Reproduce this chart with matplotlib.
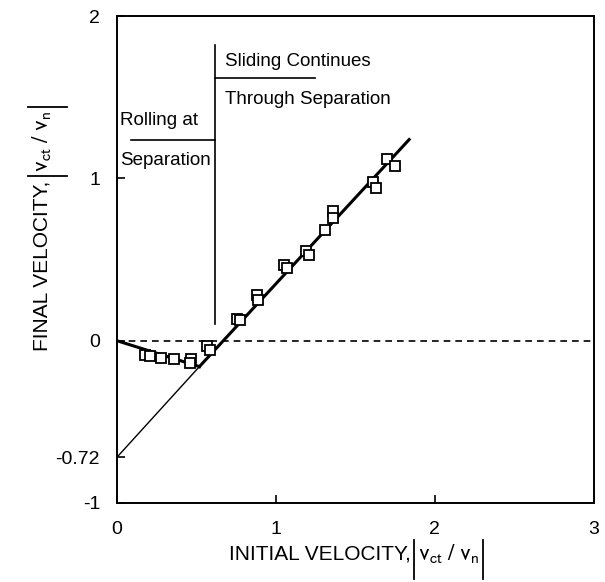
import matplotlib.pyplot as plt
import numpy as np
from matplotlib.lines import Line2D
from matplotlib.transforms import IdentityTransform

plt.rcParams["font.family"] = ["Liberation Sans", "DejaVu Sans"]
plt.rcParams["mathtext.fontset"] = "stixsans"

# measured points |vct/vn| initial vs final
x_pts = [0.18, 0.21, 0.28, 0.36, 0.47, 0.46, 0.57, 0.585, 0.755, 0.775,
         0.88, 0.89, 1.05, 1.07, 1.19, 1.21, 1.31, 1.36, 1.36,
         1.61, 1.63, 1.70, 1.75]
y_pts = [-0.09, -0.095, -0.105, -0.115, -0.11, -0.14, -0.03, -0.06, 0.135, 0.125,
         0.28, 0.25, 0.465, 0.45, 0.55, 0.53, 0.68, 0.80, 0.755,
         0.98, 0.94, 1.12, 1.08]

# model lines
roll_x = [0.0, 0.52]
roll_y = [0.0, -0.16]
slide_x = [0.52, 1.84]
slide_y = [-0.16, 1.24]
thin_x = [0.0, 0.52]
thin_y = [-0.72, -0.16]

yticks = [-1, -0.72, 0, 1, 2]
ytick_labels = ["-1", "-0.72", "0", "1", "2"]
xticks = [0, 1, 2, 3]

fig = plt.figure(figsize=(6.05, 5.82), dpi=100)
ax = fig.add_axes([0.193, 0.136, 0.788, 0.836])

ax.plot([0, 3], [0, 0], color="black", lw=1.2, ls=(0, (4, 3)))
ax.plot(thin_x, thin_y, color="black", lw=1.0)
ax.plot(roll_x, roll_y, color="black", lw=2.2)
ax.plot(slide_x, slide_y, color="black", lw=2.2)
ax.plot(x_pts, y_pts, ls="none", marker="s", ms=7, mfc="white", mec="black", mew=1.3)

# region dividers
ax.plot([0.62, 0.62], [0.1, 1.82], color="black", lw=1.2)
ax.plot([0.62, 1.25], [1.62, 1.62], color="black", lw=1.2)
ax.plot([0.09, 0.62], [1.24, 1.24], color="black", lw=1.2)

ax.text(0.68, 1.72, "Sliding Continues", fontsize=13.5, va="center")
ax.text(0.68, 1.49, "Through Separation", fontsize=13.5, va="center")
ax.text(0.02, 1.36, "Rolling at", fontsize=13.5, va="center")
ax.text(0.02, 1.11, "Separation", fontsize=13.5, va="center")

ax.set_xlim(0, 3)
ax.set_ylim(-1, 2)
ax.set_xticks(xticks)
ax.set_xticklabels([str(t) for t in xticks])
ax.set_yticks(yticks)
ax.set_yticklabels(ytick_labels)
ax.tick_params(direction="in", length=6, width=1.2, labelsize=14)
ax.tick_params(axis="x", pad=13)
ax.tick_params(axis="y", pad=12)
for s in ax.spines.values():
    s.set_linewidth(1.4)


def bar_label(prefix, center, base, vertical=False, fs=15, gap=4, up=20, down=19):
    # axis title with tall absolute-value bars drawn as lines (pixel coords)
    rot = 90 if vertical else 0
    kw = dict(transform=IdentityTransform(), rotation=rot,
              rotation_mode="anchor", ha="left", va="baseline")
    t1 = fig.text(0, 0, prefix, fontsize=fs, **kw)
    t2 = fig.text(0, 0, r"$\mathrm{v_{ct}}\ /\ \mathrm{v_n}$", fontsize=fs + 1.5, **kw)
    r = fig.canvas.get_renderer()
    e1, e2 = t1.get_window_extent(r), t2.get_window_extent(r)
    w1 = e1.height if vertical else e1.width
    w2 = e2.height if vertical else e2.width
    total = w1 + 4 * gap + w2
    p = center - total / 2
    b1 = p + w1 + gap
    p2 = b1 + gap
    b2 = p2 + w2 + gap
    if vertical:
        t1.set_position((base, p))
        t2.set_position((base, p2))
        for b in (b1, b2):
            fig.add_artist(Line2D([base - up, base + down], [b, b], color="black",
                                  lw=1.3, transform=IdentityTransform()))
    else:
        t1.set_position((p, base))
        t2.set_position((p2, base))
        for b in (b1, b2):
            fig.add_artist(Line2D([b, b], [base - down, base + up], color="black",
                                  lw=1.3, transform=IdentityTransform()))


bar_label("INITIAL VELOCITY,", center=358, base=22)
bar_label("FINAL VELOCITY,", center=355, base=48, vertical=True)

fig.savefig("out.png", dpi=100)
